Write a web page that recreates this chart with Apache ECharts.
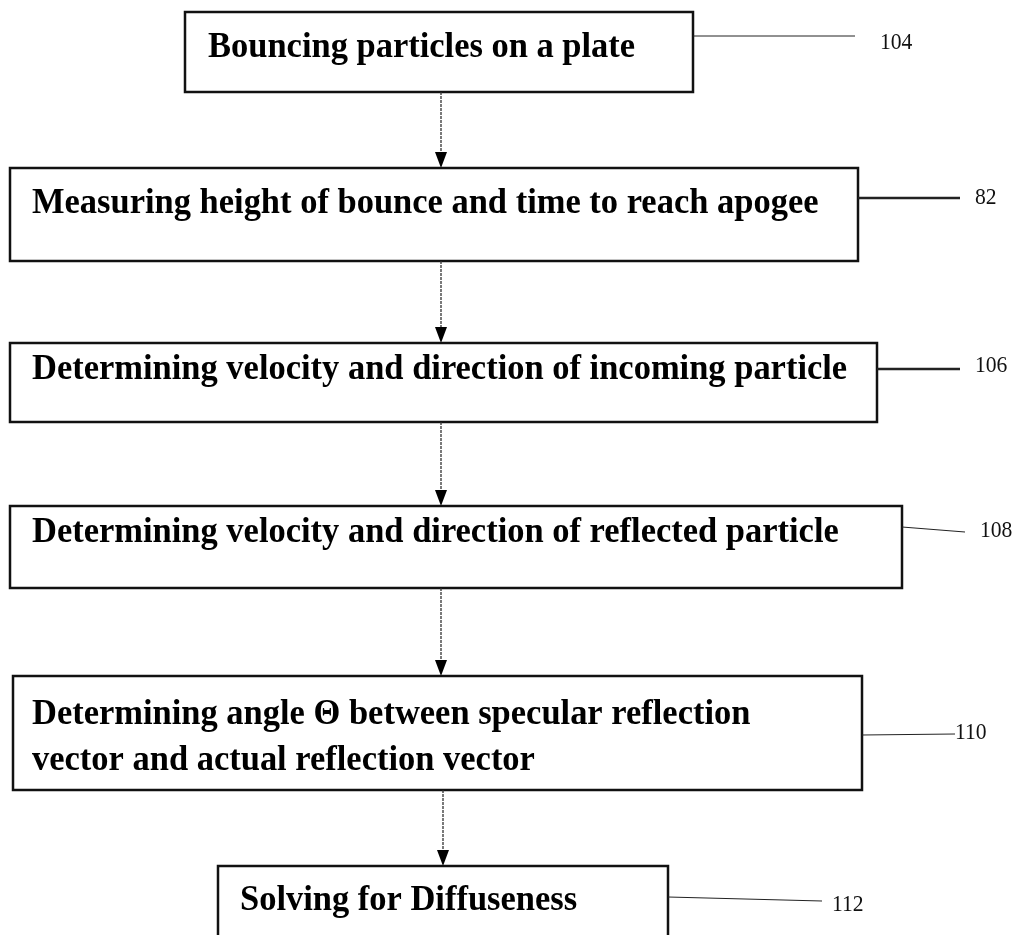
<!DOCTYPE html>
<html><head><meta charset="utf-8">
<script src="https://cdn.jsdelivr.net/npm/echarts@6/dist/echarts.min.js"></script>
<style>html,body{margin:0;padding:0;background:#fff}#c{width:1018px;height:935px}</style>
</head><body><div id="c"></div>
<script>
// Flowchart content
const steps = [
  'Bouncing particles on a plate',
  'Measuring height of bounce and time to reach apogee',
  'Determining velocity and direction of incoming particle',
  'Determining velocity and direction of reflected particle',
  'Determining angle \u0398 between specular reflection\nvector and actual reflection vector',
  'Solving for Diffuseness'
];
const refs = ['104', '82', '106', '108', '110', '112'];

// Layout (pixel-space data coordinates): box [x0, y0, x1, y1]
const boxes = [
  [185, 12, 693, 92],
  [10, 168, 858, 261],
  [10, 343, 877, 422],
  [10, 506, 902, 588],
  [13, 676, 862, 790],
  [218, 866, 668, 950]
];
// text anchor [x, centerY]
const textPos = [[208, 48], [32, 204], [32, 370], [32, 533], [32, 738], [240, 901]];
// leader line [x0, y0, x1, y1, width]
const leaders = [
  [693, 36, 855, 36, 1],
  [858, 198, 960, 198, 2.5],
  [877, 369, 960, 369, 2.5],
  [902, 527, 965, 532, 1],
  [862, 735, 955, 734, 1],
  [668, 897, 822, 901, 1]
];
const refPos = [[880, 43], [975, 198], [975, 366], [980, 531], [955, 733], [832, 905]];
// arrow x positions between consecutive boxes
const arrowX = [441, 441, 441, 441, 443];

const data = steps.map((s, i) => [i]);

const chart = echarts.init(document.getElementById('c'), null, {renderer: 'canvas'});
chart.setOption({
  backgroundColor: '#fff',
  animation: false,
  grid: {left: 0, right: 0, top: 0, bottom: 0},
  xAxis: {type: 'value', min: 0, max: 1018, show: false},
  yAxis: {type: 'value', min: 0, max: 935, inverse: true, show: false},
  series: [{
    type: 'custom',
    coordinateSystem: 'cartesian2d',
    data: data,
    clip: false,
    renderItem: function (params, api) {
      const i = api.value(0);
      const b = boxes[i];
      const p0 = api.coord([b[0], b[1]]);
      const p1 = api.coord([b[2], b[3]]);
      const children = [];
      children.push({
        type: 'rect',
        shape: {x: p0[0], y: p0[1], width: p1[0] - p0[0], height: p1[1] - p0[1]},
        style: {fill: '#fff', stroke: '#111', lineWidth: 2.5}
      });
      const tp = api.coord(textPos[i]);
      children.push({
        type: 'text',
        x: tp[0], y: tp[1],
        scaleX: 0.985,
        style: {
          text: steps[i],
          fontFamily: 'Liberation Serif',
          fontWeight: 'bold',
          fontSize: 35,
          lineHeight: 46,
          fill: '#000',
          align: 'left',
          verticalAlign: 'middle'
        }
      });
      const L = leaders[i];
      const l0 = api.coord([L[0], L[1]]);
      const l1 = api.coord([L[2], L[3]]);
      children.push({
        type: 'line',
        shape: {x1: l0[0], y1: l0[1], x2: l1[0], y2: l1[1]},
        style: {stroke: '#222', lineWidth: L[4]}
      });
      const rp = api.coord(refPos[i]);
      children.push({
        type: 'text',
        x: rp[0], y: rp[1],
        scaleX: 0.9,
        style: {
          text: refs[i],
          fontFamily: 'Liberation Serif',
          fontSize: 24,
          fill: '#111',
          align: 'left',
          verticalAlign: 'middle'
        }
      });
      if (i < arrowX.length) {
        const a0 = api.coord([arrowX[i], boxes[i][3]]);
        const a1 = api.coord([arrowX[i], boxes[i + 1][1]]);
        children.push({
          type: 'line',
          shape: {x1: a0[0], y1: a0[1], x2: a1[0], y2: a1[1] - 10},
          style: {stroke: '#333', lineWidth: 1.3, lineDash: [3, 1]}
        });
        children.push({
          type: 'polygon',
          shape: {points: [[a1[0] - 6, a1[1] - 16], [a1[0] + 6, a1[1] - 16], [a1[0], a1[1]]]},
          style: {fill: '#000'}
        });
      }
      return {type: 'group', children: children};
    }
  }]
});
</script>
</body></html>
